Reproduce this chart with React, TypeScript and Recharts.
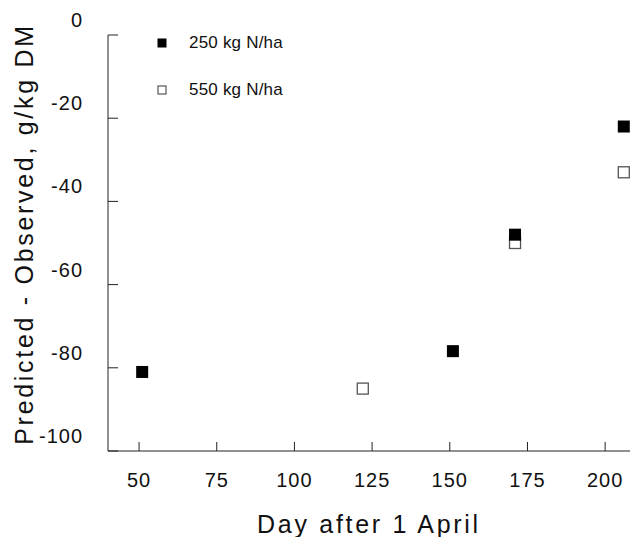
import { ScatterChart, Scatter, XAxis, YAxis } from 'recharts'

// days after 1 April, predicted - observed (g/kg DM)
const days250 = [51, 151, 171, 206]
const vals250 = [-81, -76, -48, -22]
const days550 = [122, 171, 206]
const vals550 = [-85, -50, -33]

const xTicks = [50, 75, 100, 125, 150, 175, 200]
const yTicks = [0, -20, -40, -60, -80, -100]

const seriesNames = ['250 kg N/ha', '550 kg N/ha']

const data250 = days250.map((d, i) => ({ day: d, diff: vals250[i] }))
const data550 = days550.map((d, i) => ({ day: d, diff: vals550[i] }))

const font = '"Liberation Sans", Arial, Helvetica, sans-serif'
const ink = '#222'

const FilledSquare = (p: any) => (
  <rect x={p.cx - 6} y={p.cy - 6} width={12} height={12} fill="#000" />
)
const OpenSquare = (p: any) => (
  <rect x={p.cx - 5.5} y={p.cy - 5.5} width={11} height={11} fill="#fff" stroke="#555" strokeWidth={1.3} />
)

const XTick = (p: any) => (
  <g>
    <line x1={p.x} y1={p.y} x2={p.x} y2={p.y - 9} stroke={ink} strokeWidth={1} />
    <text x={p.x} y={p.y + 29} textAnchor="middle" dominantBaseline="central"
      fontSize={20} letterSpacing={1} fontFamily={font} fill="#111">
      {p.payload.value}
    </text>
  </g>
)

const YTick = (p: any) => (
  <g>
    <line x1={p.x} y1={p.y} x2={p.x + 10} y2={p.y} stroke={ink} strokeWidth={1} />
    <text x={p.x - 25} y={p.y - 15} textAnchor="end" dominantBaseline="central"
      fontSize={20} letterSpacing={1} fontFamily={font} fill="#111">
      {p.payload.value}
    </text>
  </g>
)

const XTitle = () => (
  <text x={369} y={533} textAnchor="middle" fontSize={25} letterSpacing={2.7}
    fontFamily={font} fill="#111">
    Day after 1 April
  </text>
)

const YTitle = () => (
  <text x={33} y={234} textAnchor="middle" fontSize={25} letterSpacing={2.7}
    fontFamily={font} fill="#111" transform="rotate(-90, 33, 234)">
    Predicted - Observed, g/kg DM
  </text>
)

const LegendBox = () => (
  <div style={{ position: 'absolute', left: 157, top: 19, fontFamily: font, fontSize: 17, color: '#111' }}>
    {seriesNames.map((name, i) => (
      <div key={name} style={{ display: 'flex', alignItems: 'center', height: 47 }}>
        <svg width={10} height={10} style={{ marginRight: 22 }}>
          {i === 0
            ? <rect x={0.5} y={0.5} width={9} height={9} fill="#000" />
            : <rect x={1} y={1} width={8} height={8} fill="#fff" stroke="#555" strokeWidth={1.2} />}
        </svg>
        <span style={{ letterSpacing: 0.2 }}>{name}</span>
      </div>
    ))}
  </div>
)

export default function App() {
  return (
    <div style={{ position: 'absolute', left: 0, top: 0, width: 632, height: 537, background: '#fff' }}>
      <ScatterChart width={632} height={537} margin={{ top: 35, right: 2, bottom: 0, left: 48 }}>
        <XAxis
          type="number" dataKey="day" domain={[40, 208]} ticks={xTicks}
          height={86} tickSize={0} tickMargin={0} tickLine={false}
          axisLine={{ stroke: ink, strokeWidth: 1 }}
          tick={<XTick />} label={<XTitle />}
          allowDataOverflow
        />
        <YAxis
          type="number" dataKey="diff" domain={[-100, 0]} ticks={yTicks}
          width={60} tickSize={0} tickMargin={0} tickLine={false}
          axisLine={{ stroke: ink, strokeWidth: 1 }}
          tick={<YTick />} label={<YTitle />}
          allowDataOverflow
        />
        <Scatter name={seriesNames[1]} data={data550} shape={<OpenSquare />} isAnimationActive={false} />
        <Scatter name={seriesNames[0]} data={data250} shape={<FilledSquare />} isAnimationActive={false} />
      </ScatterChart>
      <LegendBox />
    </div>
  )
}
